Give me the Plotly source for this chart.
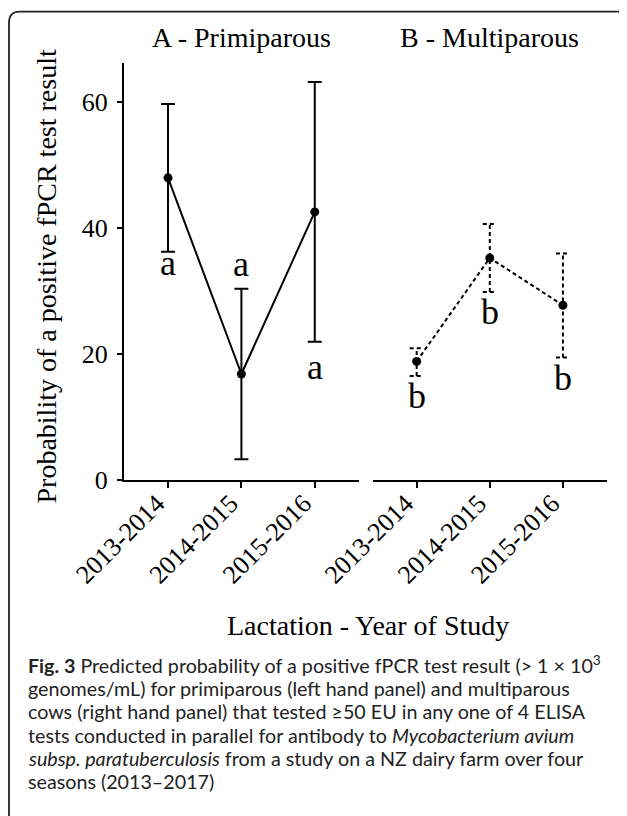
import plotly.graph_objects as go

# ---------------- data ----------------
years = ["2013-2014", "2014-2015", "2015-2016"]

prim_mean = [47.9, 16.8, 42.5]
prim_upper = [59.6, 30.3, 63.1]
prim_lower = [36.2, 3.3, 21.9]
prim_letters = ["a", "a", "a"]

multi_mean = [18.8, 35.2, 27.7]
multi_upper = [20.9, 40.6, 35.9]
multi_lower = [16.5, 29.8, 19.4]
multi_letters = ["b", "b", "b"]

y_ticks = [0, 20, 40, 60]
panel_titles = ["A - Primiparous", "B - Multiparous"]
y_title = "Probability of a positive fPCR test result"
x_title = "Lactation - Year of Study"
caption_lines = [
    "<b>Fig. 3</b> Predicted probability of a positive fPCR test result (&gt; 1 × 10<sup>3</sup>",
    "genomes/mL) for primiparous (left hand panel) and multiparous",
    "cows (right hand panel) that tested ≥50 EU in any one of 4 ELISA",
    "tests conducted in parallel for antibody to <i>Mycobacterium avium</i>",
    "<i>subsp. paratuberculosis</i> from a study on a NZ dairy farm over four",
    "seasons (2013–2017)",
]

# ---------------- geometry / style ----------------
W, H = 627, 816
OFF = 8  # page body margin: screen pixel = figure pixel + 8
SERIF = "Liberation Serif, Times New Roman, serif"
SANS = "Lato, Noto Sans, sans-serif"


def px(x):
    return (x - OFF) / W


def py(y):
    return 1 - (y - OFF) / H


x_idx = list(range(len(years)))
x_range = [-0.6, len(years) - 0.4]
left_dom = [px(124), px(358.8)]
right_dom = [px(372.8), px(606.8)]
y_bottom_px, y_top_px, px_per_unit = 480.0, 63.3, 6.3083
y_dom = [py(y_bottom_px), py(y_top_px)]
y_range = [0, (y_bottom_px - y_top_px) / px_per_unit]

unit_px = (358.8 - 124) / (x_range[1] - x_range[0])
cap_half = 7 / unit_px
DASH = "4px,3px"

fig = go.Figure()

# Left panel: solid line with error bars
fig.add_trace(go.Scatter(
    x=x_idx, y=prim_mean, mode="lines+markers",
    line=dict(color="black", width=2),
    marker=dict(size=9, color="black"),
    error_y=dict(type="data", symmetric=False,
                 array=[u - m for u, m in zip(prim_upper, prim_mean)],
                 arrayminus=[m - l for m, l in zip(prim_mean, prim_lower)],
                 color="black", thickness=2, width=7),
    xaxis="x", yaxis="y", hoverinfo="skip"))

# Right panel: dashed error bars built from the data
ex, ey = [], []
for i, lo, hi in zip(x_idx, multi_lower, multi_upper):
    ex += [i, i, None, i - cap_half, i + cap_half, None, i - cap_half, i + cap_half, None]
    ey += [lo, hi, None, hi, hi, None, lo, lo, None]
fig.add_trace(go.Scatter(
    x=ex, y=ey, mode="lines",
    line=dict(color="black", width=2, dash=DASH),
    xaxis="x2", yaxis="y", hoverinfo="skip"))
fig.add_trace(go.Scatter(
    x=x_idx, y=multi_mean, mode="lines+markers",
    line=dict(color="black", width=2, dash=DASH),
    marker=dict(size=9, color="black"),
    xaxis="x2", yaxis="y", hoverinfo="skip"))

axis_common = dict(
    range=x_range, anchor="y", showline=True, linecolor="black", linewidth=2,
    ticks="outside", ticklen=6, tickwidth=2, tickcolor="black",
    tickmode="array", tickvals=x_idx, ticktext=years, tickangle=-45,
    tickfont=dict(family=SERIF, size=26, color="black"),
    ticklabelshift=-11, ticklabelstandoff=-10,
    showgrid=False, zeroline=False, fixedrange=True, automargin=False)

annotations = []
# panel titles
for title, dom in zip(panel_titles, [left_dom, right_dom]):
    annotations.append(dict(
        text=title, xref="paper", yref="paper", x=(dom[0] + dom[1]) / 2,
        y=py(47.7 + 7), xanchor="center", yanchor="bottom", showarrow=False,
        font=dict(family=SERIF, size=28, color="black")))
# axis titles
annotations.append(dict(
    text=x_title, xref="paper", yref="paper", x=px(367.5), y=py(635.7 + 7),
    xanchor="center", yanchor="bottom", showarrow=False,
    font=dict(family=SERIF, size=28, color="black")))
annotations.append(dict(
    text=y_title, xref="paper", yref="paper", x=px(46.5), y=py(277),
    xanchor="center", yanchor="middle", textangle=-90, showarrow=False,
    font=dict(family=SERIF, size=28, color="black")))

# significance letters
prim_side = ["below", "above", "below"]
prim_shift = [11, 3, -3]
for i, (lt, side, sh) in enumerate(zip(prim_letters, prim_side, prim_shift)):
    yv = prim_lower[i] if side == "below" else prim_upper[i]
    annotations.append(dict(
        text=lt, x=i, y=yv, xref="x", yref="y", showarrow=False,
        xanchor="center", yanchor="top" if side == "below" else "bottom",
        yshift=sh, font=dict(family=SERIF, size=36, color="black")))
for i, lt in enumerate(multi_letters):
    annotations.append(dict(
        text=lt, x=i, y=multi_lower[i], xref="x2", yref="y", showarrow=False,
        xanchor="center", yanchor="top", yshift=2,
        font=dict(family=SERIF, size=36, color="black")))

# caption
for k, line in enumerate(caption_lines):
    baseline = 673.3 + 23.33 * k
    annotations.append(dict(
        text=line, xref="paper", yref="paper", x=px(26), y=py(baseline + 5.3),
        xanchor="left", yanchor="bottom", align="left", showarrow=False,
        font=dict(family=SANS, size=19.7, color="#222222")))

# rounded frame around the figure
r = 11
L, T, R, B = 9, 11.7, 640, 840
frame_path = (
    f"M {px(L)},{py(B)} L {px(L)},{py(T + r)} "
    f"Q {px(L)},{py(T)} {px(L + r)},{py(T)} "
    f"L {px(R - r)},{py(T)} Q {px(R)},{py(T)} {px(R)},{py(T + r)} "
    f"L {px(R)},{py(B)}")

fig.update_layout(
    width=W, height=H, margin=dict(l=0, r=0, t=0, b=0, autoexpand=False),
    paper_bgcolor="white", plot_bgcolor="white", showlegend=False,
    xaxis=dict(domain=left_dom, **axis_common),
    xaxis2=dict(domain=right_dom, **axis_common),
    yaxis=dict(domain=y_dom, range=y_range, anchor="x", showline=True,
               linecolor="black", linewidth=2, ticks="outside", ticklen=5,
               tickwidth=2, tickcolor="black", tickmode="array",
               tickvals=y_ticks, tickfont=dict(family=SERIF, size=26, color="black"),
               ticklabelstandoff=4,
               showgrid=False, zeroline=False, fixedrange=True, automargin=False),
    annotations=annotations,
    shapes=[dict(type="path", xref="paper", yref="paper", path=frame_path,
                 line=dict(color="#222222", width=1.8))],
)

fig.write_html("out.html")
